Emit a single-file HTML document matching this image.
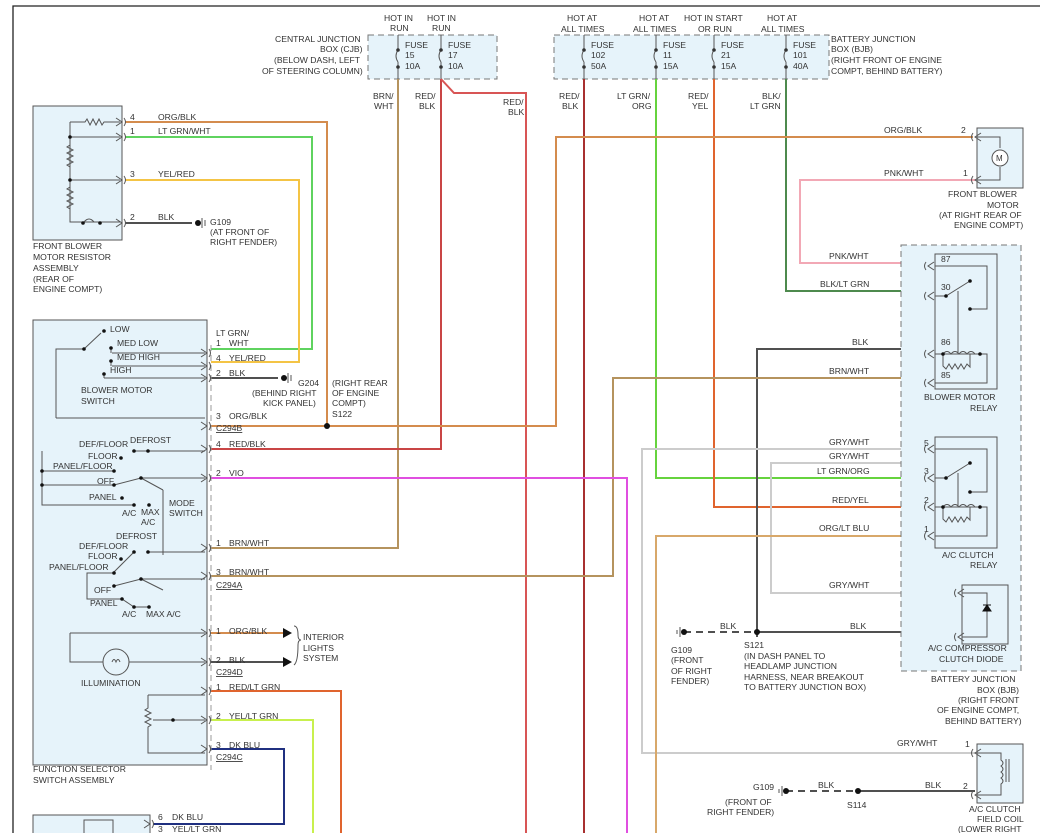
<!DOCTYPE html>
<html><head><meta charset="utf-8"><style>
html,body{margin:0;padding:0;background:#fff}
svg{display:block}
text{font-family:"Liberation Sans",sans-serif;font-size:8.6px;fill:#333}
.b{fill:#e6f3fa;stroke:#555;stroke-width:1}
.d{fill:#e6f3fa;stroke:#777;stroke-width:1;stroke-dasharray:6,4}
.w{fill:none;stroke-width:2}
.t{fill:none;stroke:#555;stroke-width:1}
.g{fill:none;stroke:#999;stroke-width:1;stroke-dasharray:6,4}
</style></head><body>
<svg width="1055" height="833" viewBox="0 0 1055 833" xmlns="http://www.w3.org/2000/svg">
<defs>
<g id="pl"><path d="M-6,-4 L0,0 L-6,4" class="t"/><path d="M2,-4 Q5,0 2,4" class="t"/></g>
<g id="pr"><path d="M6,-4 L0,0 L6,4" class="t"/><path d="M-2,-4 Q-5,0 -2,4" class="t"/></g>
</defs>
<rect x="0" y="0" width="1055" height="833" fill="#fff"/>
<path d="M13,833 V6 H1040" fill="none" stroke="#222" stroke-width="1.3"/>

<!-- CJB -->
<rect x="368" y="35" width="129" height="44" class="d"/>
<text x="384" y="21">HOT IN</text><text x="390" y="31">RUN</text>
<text x="427" y="21">HOT IN</text><text x="432" y="31">RUN</text>
<text x="275" y="42">CENTRAL JUNCTION</text><text x="320" y="52">BOX (CJB)</text>
<text x="274" y="63">(BELOW DASH, LEFT</text><text x="262" y="74">OF STEERING COLUMN)</text>
<g class="t"><path d="M398,35 V50 M398,62 V79 M441,35 V50 M441,62 V79"/><path d="M398,50 q-4,6 0,12 M441,50 q-4,6 0,12"/></g>
<g fill="#333"><circle cx="398" cy="50" r="1.8"/><circle cx="398" cy="67" r="1.8"/><circle cx="441" cy="50" r="1.8"/><circle cx="441" cy="67" r="1.8"/></g>
<text x="405" y="48">FUSE</text><text x="405" y="58">15</text><text x="405" y="69">10A</text>
<text x="448" y="48">FUSE</text><text x="448" y="58">17</text><text x="448" y="69">10A</text>
<text x="373" y="99">BRN/</text><text x="374" y="109">WHT</text>
<text x="415" y="99">RED/</text><text x="419" y="109">BLK</text>
<text x="503" y="105">RED/</text><text x="508" y="115">BLK</text>

<!-- BJB top -->
<rect x="554" y="35" width="275" height="44" class="d"/>
<text x="567" y="21">HOT AT</text><text x="561" y="32">ALL TIMES</text>
<text x="639" y="21">HOT AT</text><text x="633" y="32">ALL TIMES</text>
<text x="684" y="21">HOT IN START</text><text x="698" y="32">OR RUN</text>
<text x="767" y="21">HOT AT</text><text x="761" y="32">ALL TIMES</text>
<text x="831" y="42">BATTERY JUNCTION</text><text x="831" y="52">BOX (BJB)</text>
<text x="831" y="63">(RIGHT FRONT OF ENGINE</text><text x="831" y="74">COMPT, BEHIND BATTERY)</text>
<g class="t"><path d="M584,35 V50 M584,62 V79 M656,35 V50 M656,62 V79 M714,35 V50 M714,62 V79 M786,35 V50 M786,62 V79"/>
<path d="M584,50 q-4,6 0,12 M656,50 q-4,6 0,12 M714,50 q-4,6 0,12 M786,50 q-4,6 0,12"/></g>
<g fill="#333"><circle cx="584" cy="50" r="1.8"/><circle cx="584" cy="67" r="1.8"/><circle cx="656" cy="50" r="1.8"/><circle cx="656" cy="67" r="1.8"/><circle cx="714" cy="50" r="1.8"/><circle cx="714" cy="67" r="1.8"/><circle cx="786" cy="50" r="1.8"/><circle cx="786" cy="67" r="1.8"/></g>
<text x="591" y="48">FUSE</text><text x="591" y="58">102</text><text x="591" y="69">50A</text>
<text x="663" y="48">FUSE</text><text x="663" y="58">11</text><text x="663" y="69">15A</text>
<text x="721" y="48">FUSE</text><text x="721" y="58">21</text><text x="721" y="69">15A</text>
<text x="793" y="48">FUSE</text><text x="793" y="58">101</text><text x="793" y="69">40A</text>
<text x="559" y="99">RED/</text><text x="562" y="109">BLK</text>
<text x="617" y="99">LT GRN/</text><text x="632" y="109">ORG</text>
<text x="688" y="99">RED/</text><text x="692" y="109">YEL</text>
<text x="762" y="99">BLK/</text><text x="750" y="109">LT GRN</text>

<!-- Wires -->
<path class="w" stroke="#b5935e" d="M398,79 V548 H211"/>
<path class="w" stroke="#c94545" d="M441,79 V449 H211"/>
<path class="w" stroke="#d85555" d="M441,79 L454,93 H526 V833"/>
<path class="w" stroke="#a83030" d="M584,79 V833"/>
<path class="w" stroke="#66d33e" d="M656,79 V478 H928"/>
<path class="w" stroke="#e0642e" d="M714,79 V507 H928"/>
<path class="w" stroke="#4e8a4e" d="M786,79 V291 H928"/>
<path class="w" stroke="#d48c4e" d="M125,122 H327 V426 M211,426 H556 V137 H973"/>
<path class="w" stroke="#5fd35f" d="M125,137 H312 V349 H211"/>
<path class="w" stroke="#f4c445" d="M125,180 H299 V362 H211"/>
<path class="w" stroke="#f2a8b5" d="M975,180 H800 V263 H928"/>
<path class="w" stroke="#505050" d="M928,349 H757 V637"/>
<path class="w" stroke="#b5935e" d="M928,378 H613 V576 H211"/>
<path class="w" stroke="#e04fe0" d="M211,478 H627 V833"/>
<path class="w" stroke="#cccccc" d="M928,449 H642 V753 H975"/>
<path class="w" stroke="#cccccc" d="M928,449 L917,463 H771 V593 H958"/>
<path class="w" stroke="#d8a86a" d="M928,536 H656 V833"/>
<path class="w" stroke="#505050" d="M757,632 H958"/>
<path class="w" stroke="#505050" d="M858,791 H975"/>
<path d="M684,632 H757 M786,791 H858" stroke="#505050" stroke-width="2" stroke-dasharray="7,5" fill="none"/>
<path class="w" stroke="#505050" d="M125,223 H192"/>
<path class="w" stroke="#505050" d="M211,378 H278"/>
<path class="w" stroke="#d48c4e" d="M211,633 H283"/>
<path class="w" stroke="#505050" d="M211,662 H283"/>
<path class="w" stroke="#e0642e" d="M211,691 H341 V833"/>
<path class="w" stroke="#c8f04e" d="M211,720 H313 V833"/>
<path class="w" stroke="#203080" d="M211,749 H284 V824 H153"/>
<path d="M283,628 L292,633 L283,638 Z M283,657 L292,662 L283,667 Z" fill="#111"/>
<path d="M294,626 q4,0 4,9 q0,5 3,5 q-3,0 -3,5 q0,17 -4,20" class="t"/>
<text x="303" y="640">INTERIOR</text><text x="303" y="651">LIGHTS</text><text x="303" y="661">SYSTEM</text>

<!-- splices/grounds -->
<g fill="#111"><circle cx="327" cy="426" r="3"/><circle cx="757" cy="632" r="3"/><circle cx="858" cy="791" r="3"/>
<circle cx="198" cy="223" r="3"/><circle cx="284" cy="378" r="3"/><circle cx="684" cy="632" r="3"/><circle cx="786" cy="791" r="3"/></g>
<g class="t"><path d="M202,218 V228 M205,220 V226 M288,373 V383 M291,375 V381 M680,627 V637 M677,630 V634 M782,786 V796 M779,789 V793"/></g>
<text x="210" y="225">G109</text><text x="210" y="235">(AT FRONT OF</text><text x="210" y="245">RIGHT FENDER)</text>
<text x="298" y="386">G204</text><text x="252" y="396">(BEHIND RIGHT</text><text x="263" y="406">KICK PANEL)</text>
<text x="332" y="386">(RIGHT REAR</text><text x="332" y="396">OF ENGINE</text><text x="332" y="406">COMPT)</text><text x="332" y="417">S122</text>
<text x="744" y="648">S121</text><text x="744" y="659">(IN DASH PANEL TO</text><text x="744" y="669">HEADLAMP JUNCTION</text><text x="744" y="680">HARNESS, NEAR BREAKOUT</text><text x="744" y="690">TO BATTERY JUNCTION BOX)</text>
<text x="671" y="653">G109</text><text x="671" y="663">(FRONT</text><text x="671" y="674">OF RIGHT</text><text x="671" y="684">FENDER)</text>
<text x="720" y="629">BLK</text><text x="850" y="629">BLK</text>
<text x="753" y="790">G109</text><text x="725" y="805">(FRONT OF</text><text x="707" y="815">RIGHT FENDER)</text>
<text x="847" y="808">S114</text><text x="818" y="788">BLK</text><text x="925" y="788">BLK</text>

<!-- Resistor assembly -->
<rect x="33" y="106" width="89" height="134" class="b"/>
<g class="t"><path d="M70,122 H85 l2,-3 l3,6 l3,-6 l3,6 l3,-6 l3,6 l2,-3 H120 M70,122 V222 H120 M70,137 H120 M70,180 H120"/>
<path d="M70,145 l-3,2 l6,3 l-6,3 l6,3 l-6,3 l6,3 l-6,3 l3,2 M70,187 l-3,2 l6,3 l-6,3 l6,3 l-6,3 l6,3 l-6,3 l3,2"/>
<path d="M84,222 q5,-6 10,0"/></g>
<g fill="#111"><circle cx="70" cy="137" r="1.8"/><circle cx="70" cy="180" r="1.8"/><circle cx="83" cy="223" r="1.8"/><circle cx="100" cy="223" r="1.8"/></g>
<use href="#pl" x="122" y="122"/><use href="#pl" x="122" y="137"/><use href="#pl" x="122" y="180"/><use href="#pl" x="122" y="223"/>
<text x="130" y="120">4</text><text x="130" y="134">1</text><text x="130" y="177">3</text><text x="130" y="220">2</text>
<text x="158" y="120">ORG/BLK</text><text x="158" y="134">LT GRN/WHT</text><text x="158" y="177">YEL/RED</text><text x="158" y="220">BLK</text>
<text x="33" y="249">FRONT BLOWER</text><text x="33" y="260">MOTOR RESISTOR</text><text x="33" y="271">ASSEMBLY</text><text x="33" y="282">(REAR OF</text><text x="33" y="292">ENGINE COMPT)</text>

<!-- Function selector box -->
<rect x="33" y="320" width="174" height="445" class="b"/>
<path d="M211,345 V770" class="g" stroke-dasharray="5,3"/>
<g class="t"><path d="M56,418 V349 H84 L101,333 M112,353 H205 M112,366 H205 M104,378 H205 M56,418 H205 M111,353 v-5 M111,366 v-5 M104,378 v-4"/></g>
<g fill="#111"><circle cx="84" cy="349" r="1.8"/><circle cx="104" cy="331" r="1.8"/><circle cx="111" cy="348" r="1.8"/><circle cx="111" cy="361" r="1.8"/><circle cx="104" cy="374" r="1.8"/></g>
<text x="110" y="332">LOW</text><text x="117" y="346">MED LOW</text><text x="117" y="360">MED HIGH</text><text x="110" y="373">HIGH</text>
<text x="81" y="393">BLOWER MOTOR</text><text x="81" y="404">SWITCH</text>
<use href="#pl" x="207" y="353"/><use href="#pl" x="207" y="366"/><use href="#pl" x="207" y="378"/><use href="#pl" x="207" y="426"/>
<text x="216" y="336">LT GRN/</text><text x="216" y="346">1</text><text x="229" y="346">WHT</text>
<text x="216" y="361">4</text><text x="229" y="361">YEL/RED</text><text x="216" y="376">2</text><text x="229" y="376">BLK</text>
<text x="216" y="419">3</text><text x="229" y="419">ORG/BLK</text><text x="216" y="431" text-decoration="underline">C294B</text>
<!-- mode switch 1 -->
<g class="t"><path d="M42,451 V505 H134 M42,471 H114 M42,485 H114 L141,478 H205 M148,451 H205 M134,451 H148 M163,490 L163,555 M141,478 L163,490 M141,579 L163,590"/></g>
<g fill="#111"><circle cx="134" cy="451" r="1.8"/><circle cx="148" cy="451" r="1.8"/><circle cx="121" cy="458" r="1.8"/><circle cx="114" cy="471" r="1.8"/><circle cx="114" cy="485" r="1.8"/><circle cx="141" cy="478" r="1.8"/><circle cx="122" cy="498" r="1.8"/><circle cx="134" cy="505" r="1.8"/><circle cx="149" cy="505" r="1.8"/><circle cx="42" cy="471" r="1.8"/><circle cx="42" cy="485" r="1.8"/></g>
<text x="79" y="447">DEF/FLOOR</text><text x="130" y="443">DEFROST</text><text x="88" y="459">FLOOR</text><text x="53" y="469">PANEL/FLOOR</text>
<text x="97" y="484">OFF</text><text x="89" y="500">PANEL</text><text x="122" y="516">A/C</text><text x="141" y="515">MAX</text><text x="141" y="525">A/C</text>
<text x="169" y="506">MODE</text><text x="169" y="516">SWITCH</text>
<use href="#pl" x="207" y="449"/><use href="#pl" x="207" y="478"/>
<text x="216" y="447">4</text><text x="229" y="447">RED/BLK</text><text x="216" y="476">2</text><text x="229" y="476">VIO</text>
<!-- mode switch 2 -->
<g class="t"><path d="M148,552 H205 M134,552 L114,572 L114,573 M114,573 H87 V599 H122 L134,607 H149 M114,586 L141,579 H205"/></g>
<g fill="#111"><circle cx="134" cy="552" r="1.8"/><circle cx="148" cy="552" r="1.8"/><circle cx="121" cy="559" r="1.8"/><circle cx="114" cy="573" r="1.8"/><circle cx="114" cy="586" r="1.8"/><circle cx="141" cy="579" r="1.8"/><circle cx="122" cy="599" r="1.8"/><circle cx="134" cy="607" r="1.8"/><circle cx="149" cy="607" r="1.8"/></g>
<text x="116" y="539">DEFROST</text><text x="79" y="549">DEF/FLOOR</text><text x="88" y="559">FLOOR</text><text x="49" y="570">PANEL/FLOOR</text>
<text x="94" y="593">OFF</text><text x="90" y="606">PANEL</text><text x="122" y="617">A/C</text><text x="146" y="617">MAX A/C</text>
<use href="#pl" x="207" y="548"/><use href="#pl" x="207" y="576"/>
<text x="216" y="546">1</text><text x="229" y="546">BRN/WHT</text><text x="216" y="575">3</text><text x="229" y="575">BRN/WHT</text><text x="216" y="588" text-decoration="underline">C294A</text>
<!-- illumination -->
<g class="t"><path d="M70,633 H205 M70,633 V662 H103 M129,662 H205"/><circle cx="116" cy="662" r="13"/><path d="M112,662 q2,-5 4,0 q2,-5 4,0"/></g>
<text x="81" y="686">ILLUMINATION</text>
<use href="#pl" x="207" y="633"/><use href="#pl" x="207" y="662"/>
<text x="216" y="634">1</text><text x="229" y="634">ORG/BLK</text><text x="216" y="663">2</text><text x="229" y="663">BLK</text><text x="216" y="675" text-decoration="underline">C294D</text>
<!-- pot -->
<g class="t"><path d="M148,695 H205 M148,695 V708 l-3,2 l6,3 l-6,3 l6,3 l-6,3 l6,3 l-3,2 V753 H205 M153,720 H205"/></g>
<circle cx="173" cy="720" r="1.8" fill="#111"/>
<use href="#pl" x="207" y="691"/><use href="#pl" x="207" y="720"/><use href="#pl" x="207" y="749"/>
<text x="216" y="690">1</text><text x="229" y="690">RED/LT GRN</text><text x="216" y="719">2</text><text x="229" y="719">YEL/LT GRN</text>
<text x="216" y="748">3</text><text x="229" y="748">DK BLU</text><text x="216" y="760" text-decoration="underline">C294C</text>
<text x="33" y="772">FUNCTION SELECTOR</text><text x="33" y="783">SWITCH ASSEMBLY</text>
<!-- bottom box -->
<rect x="33" y="815" width="117" height="30" class="b"/>
<rect x="84" y="820" width="29" height="20" class="b"/>
<use href="#pl" x="150" y="824"/>
<text x="158" y="820">6</text><text x="172" y="820">DK BLU</text><text x="158" y="832">3</text><text x="172" y="832">YEL/LT GRN</text>

<!-- Blower motor -->
<rect x="977" y="128" width="46" height="60" class="b"/>
<g class="t"><path d="M977,137 H1000 V148 M977,180 H1000 V167"/><circle cx="1000" cy="158" r="8" fill="#fff"/></g>
<text x="996" y="161" style="font-size:8px">M</text>
<use href="#pr" x="975" y="137"/><use href="#pr" x="975" y="180"/>
<text x="961" y="133">2</text><text x="963" y="176">1</text>
<text x="884" y="133">ORG/BLK</text><text x="884" y="176">PNK/WHT</text>
<text x="948" y="197">FRONT BLOWER</text><text x="987" y="208">MOTOR</text><text x="939" y="218">(AT RIGHT REAR OF</text><text x="954" y="228">ENGINE COMPT)</text>

<!-- BJB relay box -->
<rect x="901" y="245" width="120" height="426" class="d"/>
<text x="931" y="682">BATTERY JUNCTION</text><text x="977" y="693">BOX (BJB)</text><text x="958" y="703">(RIGHT FRONT</text><text x="937" y="713">OF ENGINE COMPT,</text><text x="945" y="724">BEHIND BATTERY)</text>
<!-- blower relay -->
<rect x="935" y="254" width="62" height="135" class="b"/>
<g class="t"><path d="M935,266 H987 V309 H970 M935,296 H946 L970,281 M958,291 V354 M935,354 H987 V383 H935 M943,354 q4,-5 8,0 q4,-5 8,0 q4,-5 8,0 q4,-5 8,0 M943,354 V366 l3,3 l3,-5 l3,5 l3,-5 l3,5 l3,-5 l3,5 l3,-5 l3,3 V354"/></g>
<g fill="#111"><circle cx="946" cy="296" r="1.8"/><circle cx="970" cy="281" r="1.8"/><circle cx="970" cy="309" r="1.8"/><circle cx="943" cy="354" r="1.8"/><circle cx="980" cy="354" r="1.8"/></g>
<use href="#pr" x="928" y="266"/><use href="#pr" x="928" y="296"/><use href="#pr" x="928" y="354"/><use href="#pr" x="928" y="383"/>
<text x="941" y="262">87</text><text x="941" y="290">30</text><text x="941" y="345">86</text><text x="941" y="378">85</text>
<text x="829" y="259">PNK/WHT</text><text x="820" y="287">BLK/LT GRN</text><text x="852" y="345">BLK</text><text x="829" y="374">BRN/WHT</text>
<text x="924" y="400">BLOWER MOTOR</text><text x="970" y="411">RELAY</text>
<!-- AC relay -->
<rect x="935" y="437" width="62" height="111" class="b"/>
<g class="t"><path d="M935,449 H987 V492 H970 M935,478 H946 L970,463 M958,473 V507 M935,507 H987 V536 H935 M943,507 q4,-5 8,0 q4,-5 8,0 q4,-5 8,0 q4,-5 8,0 M943,507 V519 l3,3 l3,-5 l3,5 l3,-5 l3,5 l3,-5 l3,5 l3,-5 l3,3 V507"/></g>
<g fill="#111"><circle cx="946" cy="478" r="1.8"/><circle cx="970" cy="463" r="1.8"/><circle cx="970" cy="492" r="1.8"/><circle cx="943" cy="507" r="1.8"/><circle cx="980" cy="507" r="1.8"/></g>
<use href="#pr" x="928" y="449"/><use href="#pr" x="928" y="478"/><use href="#pr" x="928" y="507"/><use href="#pr" x="928" y="536"/>
<text x="924" y="446">5</text><text x="924" y="474">3</text><text x="924" y="503">2</text><text x="924" y="532">1</text>
<text x="829" y="445">GRY/WHT</text><text x="829" y="459">GRY/WHT</text><text x="817" y="474">LT GRN/ORG</text><text x="832" y="503">RED/YEL</text><text x="819" y="531">ORG/LT BLU</text>
<text x="942" y="558">A/C CLUTCH</text><text x="970" y="568">RELAY</text>
<!-- diode -->
<rect x="962" y="585" width="46" height="59" class="b"/>
<g class="t"><path d="M962,593 H987 V637 H962"/></g>
<path d="M983,611 H991 L987,605 Z M983,605 H991" fill="#111" stroke="#111"/>
<use href="#pr" x="958" y="593"/><use href="#pr" x="958" y="637"/>
<text x="829" y="588">GRY/WHT</text>
<text x="928" y="651">A/C COMPRESSOR</text><text x="939" y="662">CLUTCH DIODE</text>
<!-- field coil -->
<rect x="977" y="744" width="46" height="59" class="b"/>
<g class="t"><path d="M977,753 H1001 V760 q4,3 0,6 q4,3 0,6 q4,3 0,6 q4,3 0,6 V795 H977 M1006,759 V782 M1009,759 V782"/></g>
<use href="#pr" x="975" y="753"/><use href="#pr" x="975" y="795"/>
<text x="965" y="747">1</text><text x="963" y="789">2</text>
<text x="897" y="746">GRY/WHT</text>
<text x="969" y="812">A/C CLUTCH</text><text x="977" y="822">FIELD COIL</text><text x="958" y="832">(LOWER RIGHT</text>
</svg>
</body></html>
